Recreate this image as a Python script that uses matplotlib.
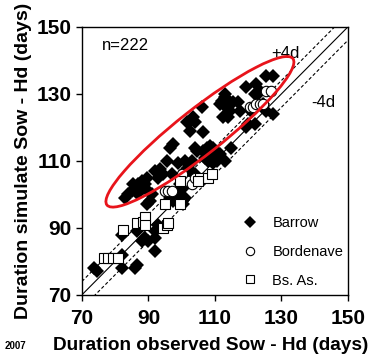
import matplotlib
matplotlib.use('Agg')
from matplotlib import pyplot as plt
from matplotlib.patches import Ellipse
import numpy as np

plt.rcParams['font.family'] = ['Liberation Sans', 'DejaVu Sans']

# Barrow (filled diamonds)
barrow_x = [73.5, 74.5, 82, 82, 82, 86.5, 86, 86.5, 88, 89, 90, 92, 92, 92, 93, 95, 89.5, 90.5,
            83, 84, 85, 85.5, 86, 87, 87.5, 88, 88.5, 89, 89.5, 90, 91, 86.5,
            92, 93, 94.5, 93.5, 95.5, 96.5, 97.5, 99, 97, 96.5, 97.5, 98, 99, 99.5, 100, 101,
            100.5, 101.5, 102, 101, 102, 103, 102.5, 100, 101, 103, 104, 105, 99, 100.5,
            101.5, 102.5, 103.5, 104, 102.5, 106, 106.5, 104, 104.5, 106.5, 107.5, 108.5, 109.5,
            110, 107, 108, 109, 109.5, 110.5, 111, 111.5, 113, 115, 108,
            112, 113, 111.5, 113.5, 114.5, 114, 112.5, 115.5, 117, 113, 117.5, 119.5, 120,
            119.5, 122.5, 122, 125.5, 127.5, 123.5, 123, 122, 125.5, 127.5, 124.5, 121]
barrow_y = [78, 77, 88, 82, 78, 89, 78, 79, 86, 87, 86, 89, 87, 83, 91, 91, 97, 98,
            99, 100, 101, 103, 102, 103, 101, 104, 102, 103, 105, 101, 100, 100.5,
            107, 105, 106, 107.5, 110, 114, 115, 109.5, 106, 99, 98, 100, 101, 103, 98, 99,
            102, 104, 106, 107, 108, 110, 109, 105, 110, 104, 106, 105, 100, 97,
            121.5, 122, 123, 121.5, 119, 126, 118.5, 114, 113, 113, 114, 114.5, 114,
            113, 111, 110, 111, 109.5, 110, 111, 112, 110, 114, 112,
            128, 129, 127, 126, 125, 123, 123, 127.5, 127.5, 130, 125, 120, 121,
            132, 133, 121, 135.5, 135.5, 131, 130, 130, 125, 124, 127, 125]

# Bordenave (open circles)
borde_x = [125.5, 127, 120.5, 121.5, 122.5, 123.5, 124.5, 102, 103, 95, 96, 97, 100, 104]
borde_y = [131, 131, 126, 126, 127, 127, 127, 104, 103, 101, 101, 101, 106, 105]

# Bs. As. (open squares)
bsas_x = [76.5, 78, 79.5, 81, 82.5, 86.5, 88.3, 89, 89, 94.5, 95.5, 96, 95, 99.5, 99.5,
          105.5, 108, 109, 105]
bsas_y = [81, 81, 81, 81, 89.5, 91.5, 91.8, 93.3, 91, 90, 91, 91.5, 97, 97, 104,
          105, 105, 106, 104]

ticks = [70, 90, 110, 130, 150]

fig = plt.figure(figsize=(3.74, 3.6), dpi=100)
ax = fig.add_axes([0.219, 0.181, 0.711, 0.744])

line = np.array([70, 150])
ax.plot(line, line, color='black', lw=0.8, zorder=1)
ax.plot(line, line + 4, color='black', lw=0.8, ls=(0, (3, 2)), zorder=1)
ax.plot(line, line - 4, color='black', lw=0.8, ls=(0, (3, 2)), zorder=1)

ax.plot(barrow_x, barrow_y, 'D', color='black', ms=7.5, mew=0, zorder=3, label='Barrow')
ax.plot(borde_x, borde_y, 'o', mfc='white', mec='black', ms=7.5, mew=0.8, zorder=4,
        label='Bordenave')
ax.plot(bsas_x, bsas_y, 's', mfc='white', mec='black', ms=7.5, mew=0.8, zorder=4,
        label='Bs. As.')

ell = Ellipse((105.5, 118.7), 71, 13.5, angle=38, fill=False, edgecolor='#e8141b',
              lw=2, zorder=5)
ax.add_patch(ell)

ax.text(76, 144.5, 'n=222', fontsize=12, va='center')
ax.text(127, 142, '+4d', fontsize=12, va='center')
ax.text(139, 127.3, '-4d', fontsize=12, va='center')

ax.set_xlim(70, 150)
ax.set_ylim(70, 150)
ax.set_xticks(ticks)
ax.set_yticks(ticks)
ax.tick_params(direction='out', length=4, width=1, labelsize=15)
ax.tick_params(axis='x', pad=6)
for lab in ax.get_xticklabels() + ax.get_yticklabels():
    lab.set_fontweight('bold')
for sp in ax.spines.values():
    sp.set_linewidth(1)

ax.set_xlabel('Duration observed Sow - Hd (days)', fontsize=13.7, fontweight='bold')
ax.xaxis.set_label_coords(0.485, -0.158)
ax.set_ylabel('Duration simulate Sow - Hd (days)', fontsize=14, fontweight='bold', labelpad=3)

leg = ax.legend(loc='lower right', bbox_to_anchor=(1.01, 0.0), frameon=False, fontsize=10.5,
                handletextpad=0.5, labelspacing=1.0, borderaxespad=0.1, markerscale=0.8,
                numpoints=1)

fig.text(0.013, 0.03, '2007', fontsize=7, fontweight='bold')

fig.savefig('out.png', dpi=100)
